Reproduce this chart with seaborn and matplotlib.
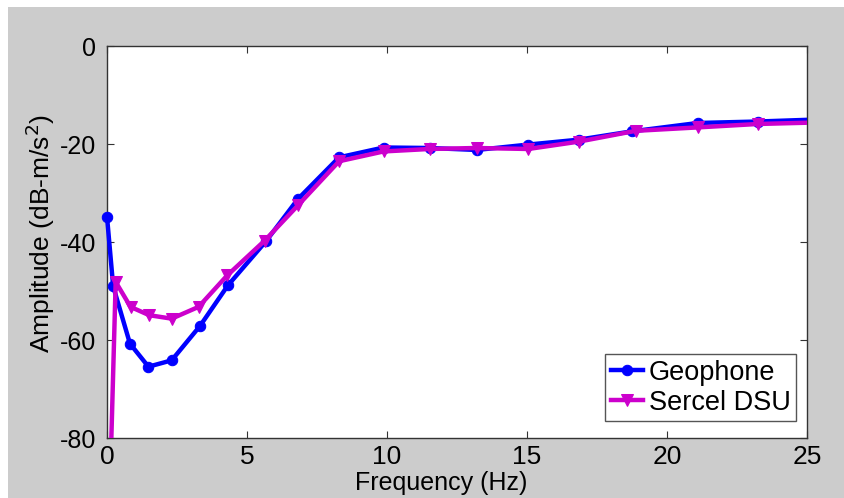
import matplotlib
matplotlib.use("Agg")
import matplotlib.pyplot as plt
import seaborn as sns
import numpy as np
from matplotlib.patches import Rectangle
from matplotlib.transforms import Bbox, TransformedBbox

# ---- data ----
geo_freq = [0.0, 0.22, 0.82, 1.48, 2.31, 3.32, 4.32, 5.68, 6.82, 8.29, 9.88, 11.52, 13.2, 15.05, 16.85, 18.75, 21.1, 23.25, 25.3]
geo_amp = [-34.8, -49.0, -60.7, -65.4, -64.1, -57.1, -48.8, -39.8, -31.2, -22.7, -20.7, -20.8, -21.2, -20.1, -19.1, -17.4, -15.7, -15.4, -15.0]

dsu_freq = [0.0, 0.31, 0.84, 1.51, 2.31, 3.27, 4.29, 5.63, 6.82, 8.29, 9.88, 11.52, 13.2, 15.05, 16.85, 18.88, 21.1, 23.25, 25.3]
dsu_amp = [-112.0, -48.1, -53.2, -54.9, -55.6, -53.2, -46.8, -39.7, -32.5, -23.5, -21.5, -21.0, -20.8, -21.0, -19.5, -17.3, -16.6, -15.9, -15.6]

labels = ["Geophone", "Sercel DSU"]
xticks = [0, 5, 10, 15, 20, 25]
yticks = [0, -20, -40, -60, -80]

FONT = ["Liberation Sans", "DejaVu Sans"]
plt.rcParams["font.family"] = FONT
plt.rcParams["axes.unicode_minus"] = False

fig = plt.figure(figsize=(8.44, 4.98), dpi=100)
fig.patch.set_facecolor("white")
fig.patches.append(Rectangle((8 / 844, 0), 1, 1 - 7 / 498, transform=fig.transFigure,
                             facecolor="#cccccc", edgecolor="none", zorder=-10))

ax = fig.add_axes([107 / 844, 1 - 438.3 / 498, 700 / 844, (438.3 - 46) / 498])
ax.set_facecolor("white")

sns.lineplot(x=geo_freq, y=geo_amp, ax=ax, color="#0000ff", linewidth=3.2,
             marker="o", markersize=7.5, markeredgecolor="#0000ff", label=labels[0],
             zorder=3)
sns.lineplot(x=dsu_freq, y=dsu_amp, ax=ax, color="#cc00cc", linewidth=3.2,
             marker="v", markersize=9, markeredgecolor="#cc00cc", label=labels[1],
             zorder=4)

# let the marker at x=0 show fully (clip only at the right and bottom)
clip = TransformedBbox(Bbox([[-0.03, 0.0], [1.0, 1.05]]), ax.transAxes)
for ln in ax.get_lines():
    ln.set_clip_box(clip)

ax.set_xlim(0, 25)
ax.set_ylim(-80, 0)
ax.set_xticks(xticks)
ax.set_yticks(yticks)
ax.tick_params(direction="in", length=5, width=0.8, color="#333333",
               top=True, right=True)
ax.tick_params(axis="x", pad=5, labelsize=19)
ax.tick_params(axis="y", pad=8, labelsize=18)
for s in ax.spines.values():
    s.set_color("#333333")
    s.set_linewidth(1.0)

ax.set_xlabel("Frequency (Hz)", fontsize=18)
ax.xaxis.set_label_coords(0.477, -0.083)
ax.set_ylabel("Amplitude (dB-m/s$^2$)", fontsize=19)
ax.yaxis.set_label_coords(-0.072, 0.523)

leg = ax.legend(loc="lower right", bbox_to_anchor=(0.984, 0.044), borderaxespad=0,
                fontsize=19.5, handlelength=1.2, handletextpad=0.2,
                labelspacing=0.15, borderpad=0.2, fancybox=False, framealpha=1)
leg.get_frame().set_edgecolor("#555555")
leg.get_frame().set_linewidth(1.0)

fig.savefig("out.png", dpi=100, facecolor=fig.get_facecolor())
